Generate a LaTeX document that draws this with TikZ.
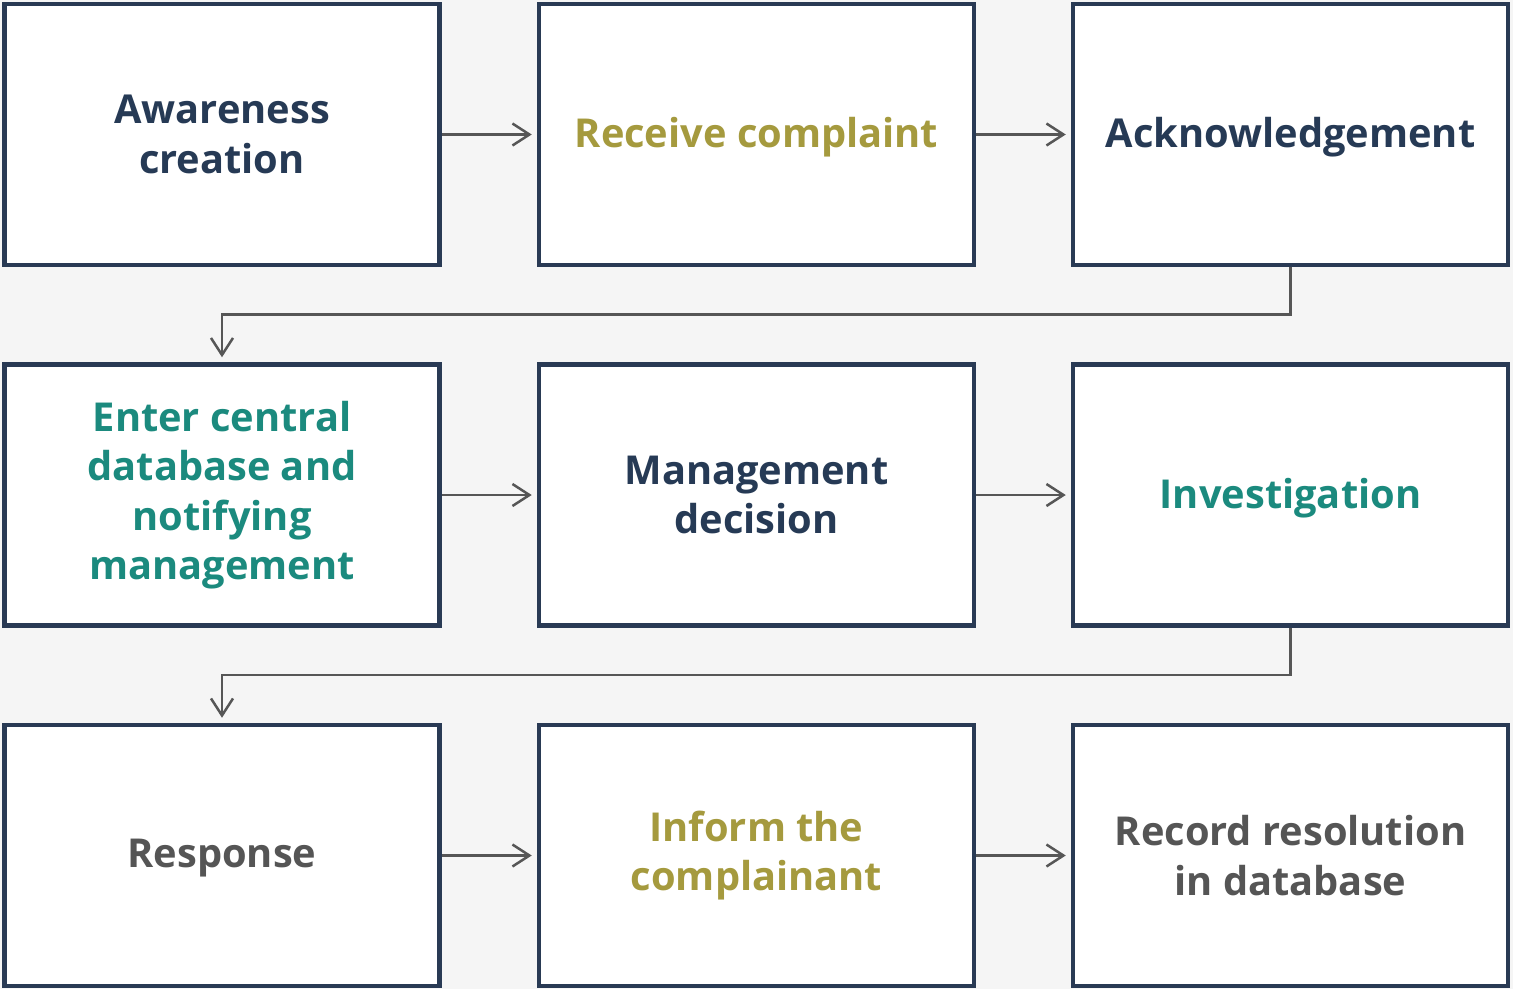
\documentclass[tikz,border=0pt]{standalone}
\usepackage{fontspec}
\setmainfont{Open Sans}
\usetikzlibrary{arrows.meta}
\definecolor{bgpage}{HTML}{F5F5F5}
\definecolor{boxline}{HTML}{293A54}
\definecolor{navytext}{HTML}{263A55}
\definecolor{olivetext}{HTML}{A59A3E}
\definecolor{tealtext}{HTML}{1B8A7E}
\definecolor{graytext}{HTML}{555555}
\definecolor{flowline}{HTML}{565656}
% single-line labels sit a little lower in their boxes
\newcommand{\lowered}[1]{\raisebox{-3pt}[\height][\depth]{#1}}
\begin{document}
\begin{tikzpicture}[x=1pt,y=-1pt,
  stepbox/.style={draw=boxline, line width=4.5pt, fill=white,
    minimum width=435pt, minimum height=261pt, inner sep=0pt,
    align=center, font=\fontsize{39.8}{49.5}\selectfont\bfseries},
  flow/.style={draw=flowline, line width=2.5pt,
    -{Straight Barb[length=17pt,width=22pt,line width=2.5pt]}, shorten >=5pt}]
  \fill[bgpage] (0,0) rectangle (1513,989);
  \useasboundingbox (0,0) rectangle (1513,989);

  % row 1
  \node[stepbox, text=navytext]  (aware) at (222,134.5)    {Awareness\\creation};
  \node[stepbox, text=olivetext] (recv)  at (756.5,134.5)  {\lowered{Receive complaint}};
  \node[stepbox, text=navytext]  (ack)   at (1290.5,134.5) {\lowered{Acknowledgement}};
  % row 2
  \node[stepbox, text=tealtext]  (enter) at (222,495)      {Enter central\\database and\\notifying\\management};
  \node[stepbox, text=navytext]  (mgmt)  at (756.5,495)    {Management\\decision};
  \node[stepbox, text=tealtext]  (inv)   at (1290.5,495)   {\lowered{Investigation}};
  % row 3
  \node[stepbox, text=graytext]  (resp)  at (222,855.5)    {\lowered{Response}};
  \node[stepbox, text=olivetext] (inform) at (756.5,855.5) {Inform the\\complainant};
  \node[stepbox, text=graytext]  (record) at (1290.5,855.5) {Record resolution\\in database};

  % connectors
  \draw[flow] (aware.east) -- (recv.west);
  \draw[flow] (recv.east) -- (ack.west);
  \draw[flow] (ack.south) -- ++(0,47) -| (enter.north);
  \draw[flow] (enter.east) -- (mgmt.west);
  \draw[flow] (mgmt.east) -- (inv.west);
  \draw[flow] (inv.south) -- ++(0,47) -| (resp.north);
  \draw[flow] (resp.east) -- (inform.west);
  \draw[flow] (inform.east) -- (record.west);
\end{tikzpicture}
\end{document}
